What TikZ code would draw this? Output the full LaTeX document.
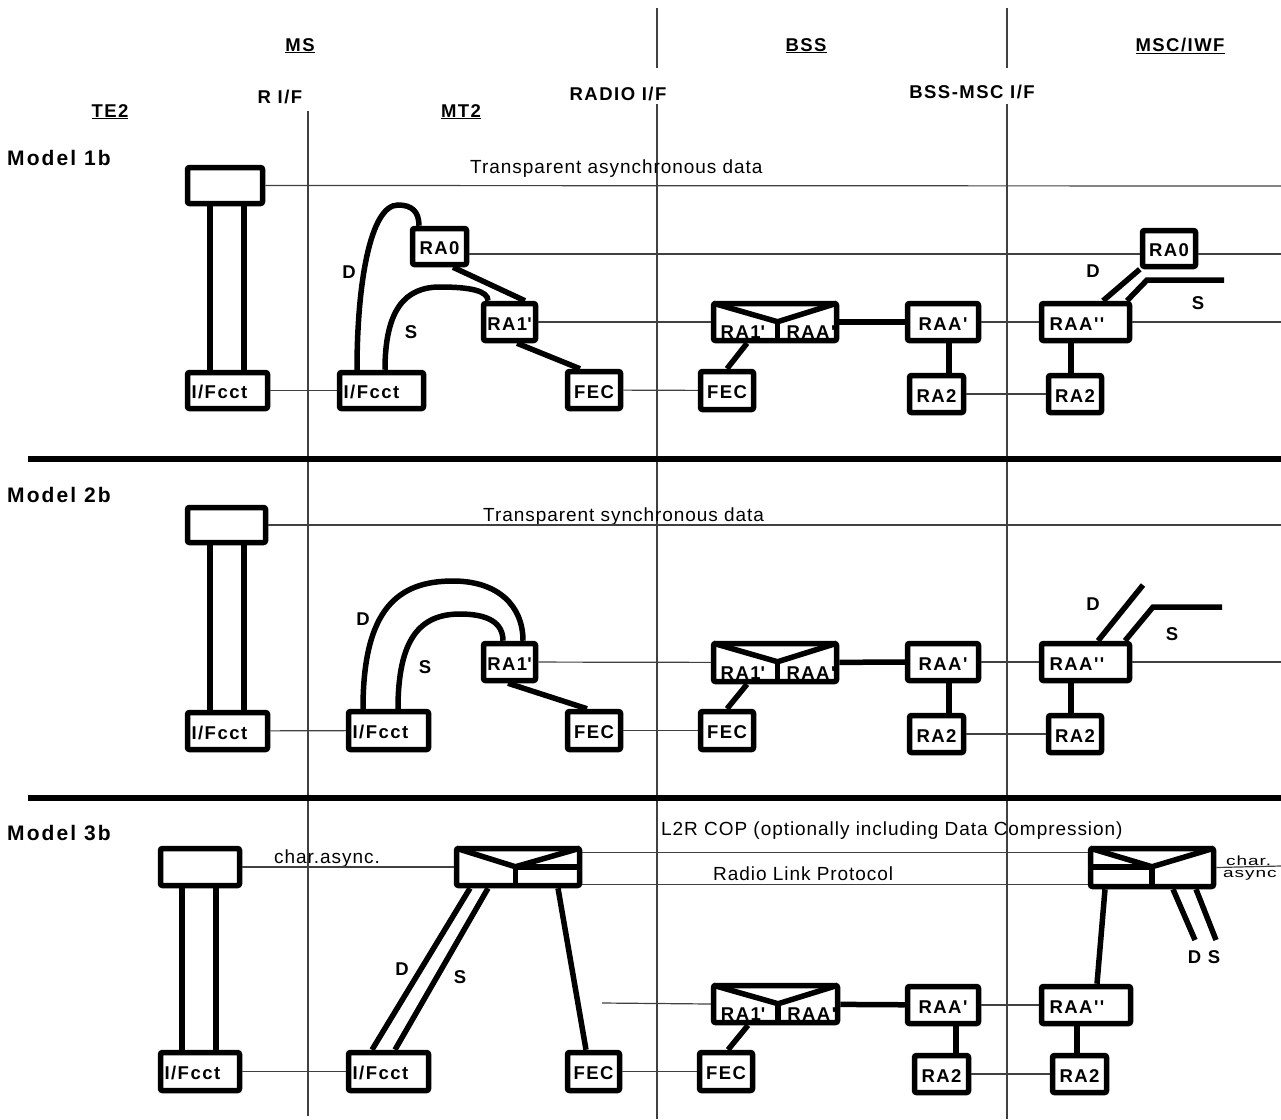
\documentclass[tikz,border=0pt]{standalone}
\usepackage{fontspec}
\usepackage{graphicx}
\setmainfont{Liberation Sans}
\newfontfamily\spfont{Liberation Sans}[LetterSpace=8]
\newfontfamily\mdfont{Liberation Sans}[LetterSpace=10]
\newfontfamily\rgfont{Liberation Sans}[LetterSpace=5]
\usetikzlibrary{calc}
\newcommand\boxfont{\spfont\bfseries\fontsize{18.5}{18.5}\selectfont}
\newcommand\hdfont{\spfont\bfseries\fontsize{18.5}{18.5}\selectfont}
\newcommand\mdlfont{\mdfont\bfseries\fontsize{21}{21}\selectfont}
\newcommand\runfont{\rgfont\fontsize{19}{19}\selectfont}

\begin{document}
\begin{tikzpicture}[x=1pt,y=-1pt,
    blk/.style={draw,fill=white,line width=5.5pt,rounded corners=2pt,inner sep=0pt,font=\boxfont,text height=16pt,text depth=-3pt},%
    ifc/.style={blk,align=left,inner xsep=4pt},%
    thk/.style={line width=5.5pt},%
    thn/.style={line width=1.2pt,black!75},%
    sep/.style={line width=6pt},%
    hd/.style={font=\hdfont,anchor=base,inner sep=0pt},%
    mdl/.style={font=\mdlfont,anchor=base west,inner sep=0pt},%
    run/.style={font=\runfont,anchor=base west,inner sep=0pt},%
    dl/.style={font=\boxfont,inner sep=0pt}]
    \useasboundingbox (0,0) rectangle (1281,1119);
    % interfaces
    \draw[thn] (308,111) -- (308,1116);
    \draw[thn] (657,8) -- (657,68) (657,104) -- (657,1119);
    \draw[thn] (1007,8) -- (1007,68) (1007,104) -- (1007,1119);
    \node[hd] (ms) at (300,51) {\underline{MS}};
    \node[hd] (bss) at (806,51) {\underline{BSS}};
    \node[hd] (msc) at (1180,51) {\underline{MSC/IWF}};
    \node[hd] (rif) at (280,103) {R I/F};
    \node[hd] (radio) at (618,100) {RADIO I/F};
    \node[hd] (bmif) at (972,98) {BSS-MSC I/F};
    \node[hd] (te) at (110,117) {\underline{TE2}};
    \node[hd] (mt) at (461,117) {\underline{MT2}};
    \draw[sep] (28,459) -- (1281,459);
    \draw[sep] (28,798) -- (1281,798);
    \coordinate (e1a) at (1281,186);
    \coordinate (e1b) at (1281,254);
    \coordinate (e1c) at (1281,322);
    \coordinate (e2a) at (1281,525);
    \coordinate (e2c) at (1281,662);
    \coordinate (e3) at (1281,866);

    % Model 1b
    \node[mdl] (m1) at (7,165) {Model 1b};
    \node[run] (tad) at (470,173) {Transparent asynchronous data};
    \node[blk,minimum width=75pt,minimum height=36pt] (te1) at (225,185.5) {};
    \node[ifc,minimum width=80pt,minimum height=36pt,text width=72pt] (ifa1) at (227.5,390.5) {I/Fcct};
    \node[ifc,minimum width=84pt,minimum height=36pt,text width=76pt] (ifb1) at (381.5,390.5) {I/Fcct};
    \node[blk,minimum width=54pt,minimum height=36pt] (ra0a1) at (439.5,246.5) {RA0};
    \node[blk,minimum width=52pt,minimum height=37pt] (ra1a1) at (509.5,322) {RA1\textquotesingle};
    \node[blk,minimum width=53pt,minimum height=37pt] (feca1) at (594,390) {FEC};
    \node[blk,minimum width=123pt,minimum height=37pt] (cmb1) at (775,322) {};
    \node[blk,minimum width=53pt,minimum height=38pt] (fecb1) at (727,390.5) {FEC};
    \node[blk,minimum width=71pt,minimum height=37pt] (raab1) at (943,322) {RAA'};
    \node[blk,minimum width=54pt,minimum height=37pt] (ra2b1) at (936.5,394) {RA2};
    \node[blk,minimum width=88pt,minimum height=37pt,text width=72pt,align=left,inner xsep=8pt] (raac1) at (1085.5,322) {RAA''};
    \node[blk,minimum width=53pt,minimum height=37pt] (ra2c1) at (1075,394) {RA2};
    \node[blk,minimum width=53pt,minimum height=36pt] (ra0c1) at (1169,248.5) {RA0};
    \draw[thn] (te1.east) -- (e1a);
    \draw[thn] (ifa1) -- (ifb1);
    \draw[thn] ([yshift=-7.5pt]ra0a1.east) -- ([yshift=-5.5pt]ra0c1.west);
    \draw[thn] ([yshift=-5.5pt]ra0c1.east) -- (e1b);
    \draw[thn] (ra1a1) -- (cmb1);
    \draw[thn] (feca1) -- (fecb1);
    \draw[thn] (raab1) -- (raac1);
    \draw[thn] (raac1.east) -- (e1c);
    \draw[thn] (ra2b1) -- (ra2c1);
    \draw[thk] ([xshift=-15pt]te1.south) -- ([xshift=-17.5pt]ifa1.north);
    \draw[thk] ([xshift=19pt]te1.south) -- ([xshift=16.5pt]ifa1.north);
    \draw[thk] ([xshift=-24.5pt]ifb1.north) .. controls +(0,-85) and +(-28,0) .. (398,205) .. controls +(14,0) and +(0,-14) .. ([xshift=-20.5pt]ra0a1.north);
    \draw[thk] ([xshift=3.5pt]ifb1.north) .. controls +(0,-60) and +(-35,0) .. (440,287) .. controls +(30,0) and +(0,-10) .. ([xshift=-21.5pt]ra1a1.north);
    \draw[thk] ([xshift=13.5pt]ra0a1.south) -- ([xshift=15.5pt]ra1a1.north);
    \draw[thk] ([xshift=7.5pt]ra1a1.south) -- ([xshift=-14pt]feca1.north);
    \draw[thk] ([xshift=-28pt]cmb1.south) -- (fecb1.north);
    \draw[thk] (cmb1) -- (raab1);
    \draw[thk] ([xshift=6pt]raab1.south) -- ([xshift=12.5pt]ra2b1.north);
    \draw[thk] ([xshift=-14.5pt]raac1.south) -- ([xshift=-4pt]ra2c1.north);
    \draw[thk] ([xshift=17.5pt]raac1.north) -- (ra0c1.south west);
    \coordinate (s1) at (1147,280);
    \coordinate (s1e) at (1224,280);
    \draw[thk] ([xshift=41.5pt]raac1.north) -- (s1) -- (s1e);
    \node[dl] (d1a) at (349,272) {D};
    \node[dl] (s1a) at (411,332) {S};
    \node[dl] (d1c) at (1093,271) {D};
    \node[dl] (s1c) at (1198,303) {S};

    % Model 2b
    \node[mdl] (m2) at (7,502) {Model 2b};
    \node[run] (tsd) at (483,521) {Transparent synchronous data};
    \node[blk,minimum width=78pt,minimum height=35pt] (te2) at (226.5,525) {};
    \node[ifc,minimum width=80pt,minimum height=37pt,text width=72pt] (ifa2) at (227.5,731) {I/Fcct};
    \node[ifc,minimum width=80pt,minimum height=38pt,text width=72pt] (ifb2) at (388.5,730.5) {I/Fcct};
    \node[blk,minimum width=52pt,minimum height=37pt] (ra1a2) at (509.5,662) {RA1\textquotesingle};
    \node[blk,minimum width=53pt,minimum height=38pt] (feca2) at (594,730.5) {FEC};
    \node[blk,minimum width=123pt,minimum height=38pt] (cmb2) at (775,662.5) {};
    \node[blk,minimum width=53pt,minimum height=38pt] (fecb2) at (727,730.5) {FEC};
    \node[blk,minimum width=71pt,minimum height=37pt] (raab2) at (943,662) {RAA'};
    \node[blk,minimum width=54pt,minimum height=37pt] (ra2b2) at (936.5,734) {RA2};
    \node[blk,minimum width=88pt,minimum height=37pt,text width=72pt,align=left,inner xsep=8pt] (raac2) at (1085.5,662) {RAA''};
    \node[blk,minimum width=53pt,minimum height=37pt] (ra2c2) at (1075,734) {RA2};
    \draw[thn] (te2.east) -- (e2a);
    \draw[thn] (ifa2) -- (ifb2);
    \draw[thn] (ra1a2) -- (cmb2);
    \draw[thn] (feca2) -- (fecb2);
    \draw[thn] (raab2) -- (raac2);
    \draw[thn] (raac2.east) -- (e2c);
    \draw[thn] (ra2b2) -- (ra2c2);
    \draw[thk] ([xshift=-16.5pt]te2.south) -- ([xshift=-17.5pt]ifa2.north);
    \draw[thk] ([xshift=17.5pt]te2.south) -- ([xshift=16.5pt]ifa2.north);
    \draw[thk] ([xshift=-25.5pt]ifb2.north) .. controls +(0,-100) and +(-55,0) .. (453,581) .. controls +(45,0) and +(0,-35) .. ([xshift=13.5pt]ra1a2.north);
    \draw[thk] ([xshift=9.5pt]ifb2.north) .. controls +(0,-70) and +(-40,0) .. (460,614) .. controls +(28,0) and +(0,-18) .. ([xshift=-6.5pt]ra1a2.north);
    \draw[thk] ([xshift=-1.5pt]ra1a2.south) -- ([xshift=-7pt]feca2.north);
    \draw[thk] ([xshift=-28pt]cmb2.south) -- (fecb2.north);
    \draw[thk] (cmb2) -- (raab2);
    \draw[thk] ([xshift=6pt]raab2.south) -- ([xshift=12.5pt]ra2b2.north);
    \draw[thk] ([xshift=-14.5pt]raac2.south) -- ([xshift=-4pt]ra2c2.north);
    \coordinate (d2e) at (1143,585);
    \coordinate (s2) at (1153,607);
    \coordinate (s2e) at (1222,607);
    \draw[thk] ([xshift=12.5pt]raac2.north) -- (d2e);
    \draw[thk] ([xshift=39.5pt]raac2.north) -- (s2) -- (s2e);
    \node[dl] (d2a) at (363,619) {D};
    \node[dl] (s2a) at (425,667) {S};
    \node[dl] (d2c) at (1093,604) {D};
    \node[dl] (s2c) at (1172,634) {S};

    % Model 3b
    \node[mdl] (m3) at (7,840) {Model 3b};
    \node[run] (l2r) at (661,835) {L2R COP (optionally including Data Compression)};
    \node[run] (rlp) at (713,880) {Radio Link Protocol};
    \node[run] (chas) at (274,863) {char.async.};
    \node[blk,minimum width=79pt,minimum height=37pt] (te3) at (200,867) {};
    \node[ifc,minimum width=79pt,minimum height=38pt,text width=71pt] (ifa3) at (200,1071.5) {I/Fcct};
    \node[ifc,minimum width=80pt,minimum height=38pt,text width=72pt] (ifb3) at (388.5,1071.5) {I/Fcct};
    \node[blk,minimum width=123pt,minimum height=37pt] (l2ra3) at (518,867) {};
    \node[blk,minimum width=52pt,minimum height=38pt] (feca3) at (593.5,1071.5) {FEC};
    \node[blk,minimum width=124pt,minimum height=37pt] (cmb3) at (775.5,1004) {};
    \node[blk,minimum width=53pt,minimum height=38pt] (fecb3) at (726,1071.5) {FEC};
    \node[blk,minimum width=71pt,minimum height=37pt] (raab3) at (943,1005) {RAA'};
    \node[blk,minimum width=54pt,minimum height=37pt] (ra2b3) at (941.5,1074) {RA2};
    \node[blk,minimum width=89pt,minimum height=37pt,text width=73pt,align=left,inner xsep=8pt] (raac3) at (1086,1005) {RAA''};
    \node[blk,minimum width=54pt,minimum height=37pt] (ra2c3) at (1079.5,1074) {RA2};
    \node[blk,minimum width=123pt,minimum height=38pt] (l2rc3) at (1152,867.5) {};
    \coordinate (c3in) at (602,1003);
    \draw[thn] (te3) -- (l2ra3);
    \draw[thn] ([yshift=-7pt]l2ra3.north east) -- ([yshift=-7pt]l2rc3.north west);
    \draw[thn] ([yshift=4pt]l2ra3.south east) -- ([yshift=5pt]l2rc3.south west);
    \draw[thn] (l2rc3.east) -- (e3);
    \draw[thn] (ifa3) -- (ifb3);
    \draw[thn] (feca3) -- (fecb3);
    \draw[thn] (c3in) -- (cmb3.west);
    \draw[thn] (raab3) -- (raac3);
    \draw[thn] (ra2b3) -- (ra2c3);
    \draw[thk] ([xshift=-18pt]te3.south) -- ([xshift=-18pt]ifa3.north);
    \draw[thk] ([xshift=16pt]te3.south) -- ([xshift=16pt]ifa3.north);
    \draw[thk] ([xshift=-48pt]l2ra3.south) -- ([xshift=-16.5pt]ifb3.north);
    \draw[thk] ([xshift=-30pt]l2ra3.south) -- ([xshift=6.5pt]ifb3.north);
    \draw[thk] ([xshift=40pt]l2ra3.south) -- ([xshift=-7.5pt]feca3.north);
    \draw[thk] ([xshift=-27.5pt]cmb3.south) -- ([xshift=2pt]fecb3.north);
    \draw[thk] (cmb3) -- (raab3);
    \draw[thk] ([xshift=13pt]raab3.south) -- ([xshift=14.5pt]ra2b3.north);
    \draw[thk] ([xshift=-9pt]raac3.south) -- ([xshift=-2.5pt]ra2c3.north);
    \draw[thk] ([xshift=11pt]raac3.north) -- ([xshift=-47pt]l2rc3.south);
    \coordinate (d3e) at (1195,940);
    \coordinate (s3e) at (1216,940);
    \draw[thk] ([xshift=21pt]l2rc3.south) -- (d3e);
    \draw[thk] ([xshift=44pt]l2rc3.south) -- (s3e);
    \node[dl] (d3a) at (402,969) {D};
    \node[dl] (s3a) at (460,977) {S};
    \node[dl] (ds3) at (1204,957) {D S};
    \node[run] (chr) at (1226,865) {\scalebox{1}[0.7]{char.}};
    \node[run] (asy) at (1223,877) {\scalebox{1}[0.7]{async}};

    % split boxes
    \foreach \c in {cmb1,cmb2,cmb3}{
      \draw[thk] ($(\c.north west)+(2.5,2.5)$) -- ($(\c.north west)!.52!(\c.north east)+(0,21)$) coordinate (v\c) -- ($(\c.north east)+(-2.5,2.5)$);
      \draw[thk] (v\c) -- (v\c |- \c.south);
      \node[font=\boxfont,anchor=base] at ($(\c.south west)!.25!(\c.south east)+(0,-5)$) {RA1\textquotesingle};
      \node[font=\boxfont,anchor=base] at ($(\c.south west)!.78!(\c.south east)+(0,-5)$) {RAA'};
    }
    \draw[thk] ($(l2ra3.north west)+(2.5,2.5)$) -- ($(l2ra3.north west)!.48!(l2ra3.north east)+(0,21)$) coordinate (va) -- ($(l2ra3.north east)+(-2.5,2.5)$);
    \draw[thk] (va) -- (va |- l2ra3.south);
    \draw[thk] (va) -- (va -| l2ra3.east);
    \draw[thk] ($(l2rc3.north west)+(2.5,2.5)$) -- ($(l2rc3.north west)!.5!(l2rc3.north east)+(0,21)$) coordinate (vb) -- ($(l2rc3.north east)+(-2.5,2.5)$);
    \draw[thk] (vb) -- (vb |- l2rc3.south);
    \draw[thk] (vb) -- (vb -| l2rc3.west);
\end{tikzpicture}
\end{document}
